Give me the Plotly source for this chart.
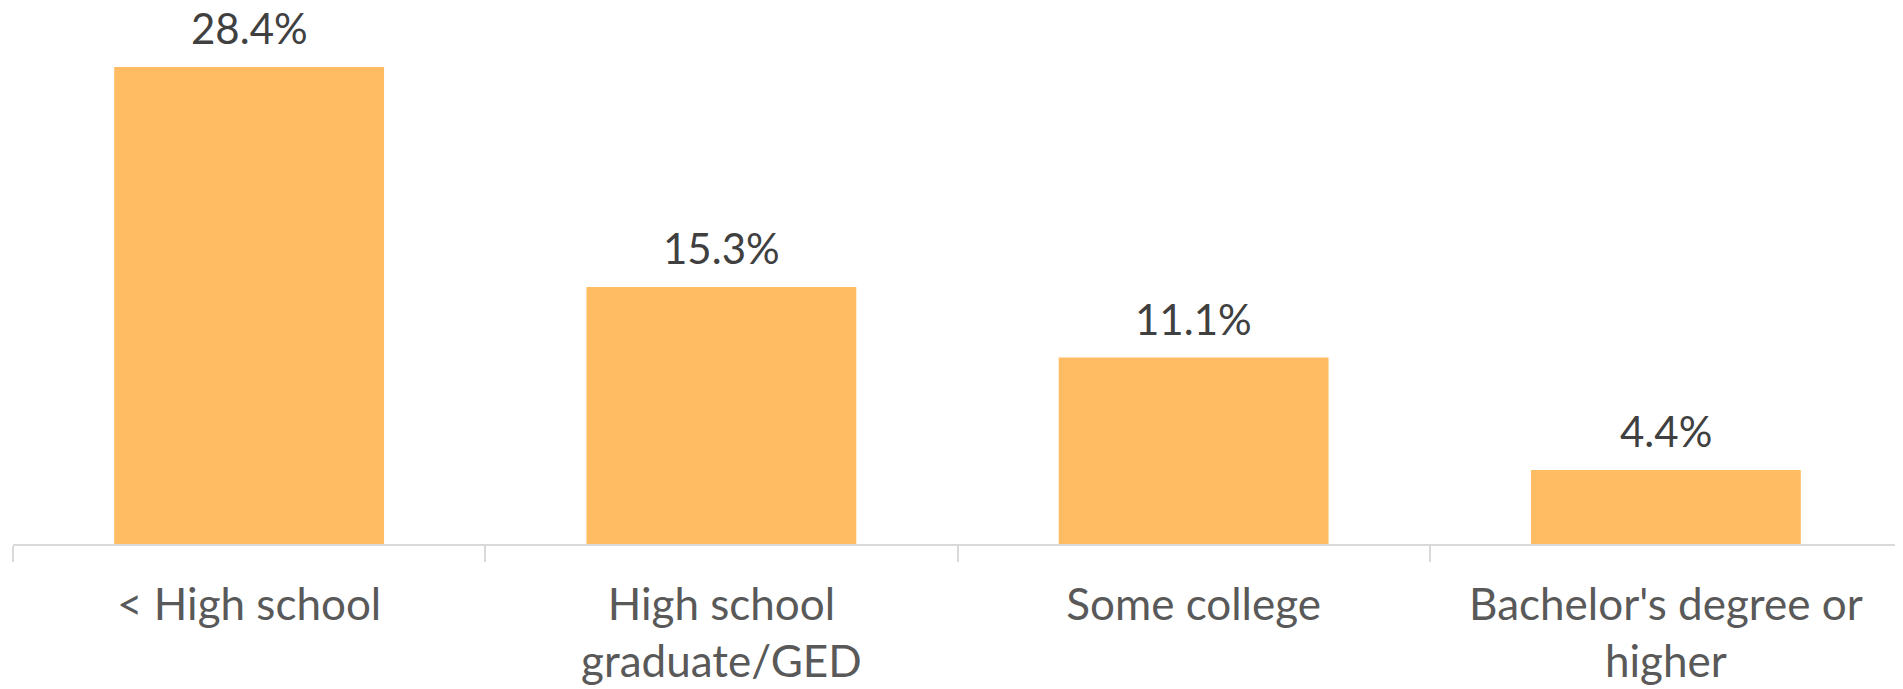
import plotly.graph_objects as go

categories = ["< High school", "High school<br>graduate/GED", "Some college", "Bachelor's degree or<br>higher"]
values = [28.4, 15.3, 11.1, 4.4]
value_labels = ["28.4%", "15.3%", "11.1%", "4.4%"]

BAR_COLOR = "#FFBC63"
FONT = "Lato, Carlito, Calibri, sans-serif"

fig = go.Figure(go.Bar(
    x=categories, y=values, marker=dict(color=BAR_COLOR, line=dict(width=0)),
    hoverinfo="skip",
))

for c, v, t in zip(categories, values, value_labels):
    fig.add_annotation(x=c, y=v, text=t, showarrow=False, yanchor="bottom",
                       yshift=13, borderpad=0,
                       font=dict(family=FONT, size=42, color="#404040"))

fig.update_layout(
    width=1903, height=689,
    margin=dict(l=5, r=9, t=32, b=153, autoexpand=False),
    paper_bgcolor="white", plot_bgcolor="white",
    bargap=0.4286, showlegend=False,
    font=dict(family=FONT),
)
fig.update_xaxes(
    automargin=False,
    showline=True, linecolor="#D9D9D9", linewidth=2,
    ticks="outside", tickson="boundaries", ticklen=16, tickcolor="#D9D9D9", tickwidth=2,
    tickfont=dict(family=FONT, size=44, color="#595959"),
    ticklabelstandoff=21,
    showgrid=False,
)
fig.update_yaxes(range=[0, 30], visible=False, showgrid=False, automargin=False)

fig.write_html("out.html")
